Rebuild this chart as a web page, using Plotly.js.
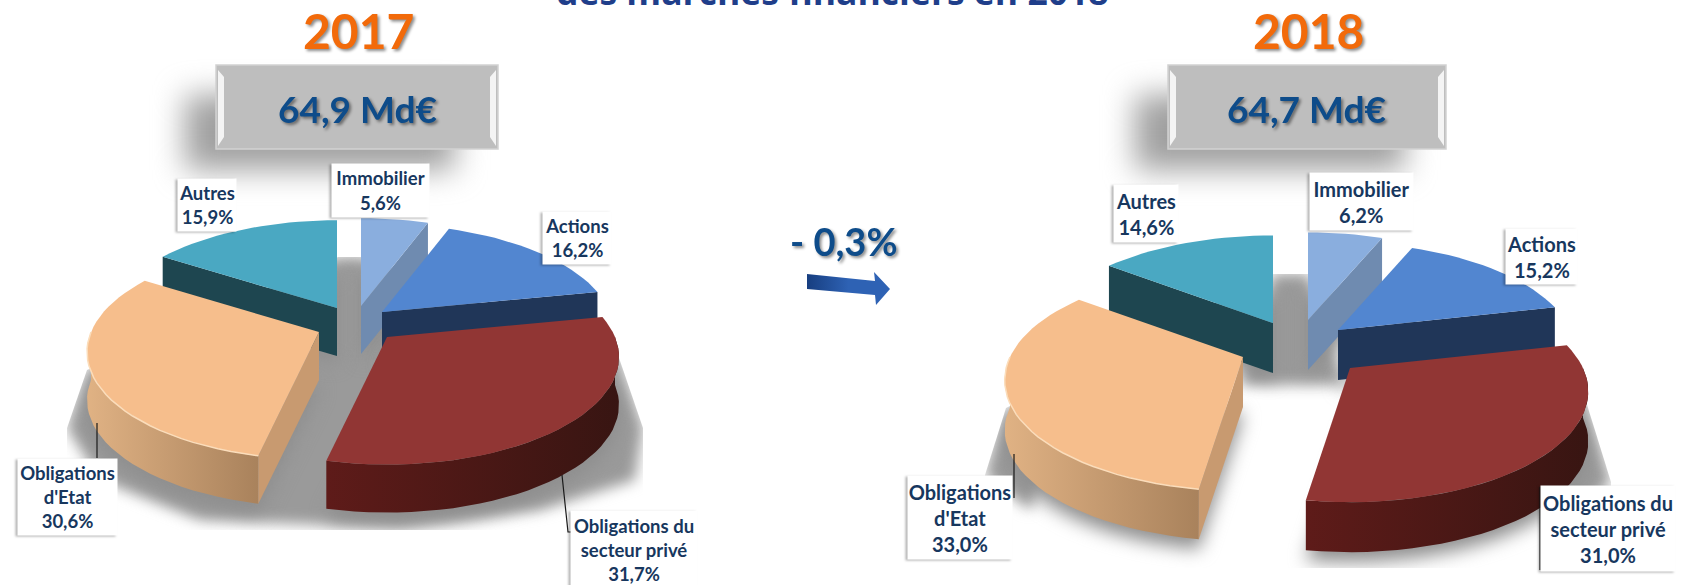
<!DOCTYPE html>
<html lang="fr">
<head>
<meta charset="utf-8">
<script src="https://cdn.plot.ly/plotly-3.0.1.min.js"></script>
<style>
html,body{margin:0;padding:0;background:#fff;overflow:hidden}
#chart{width:1685px;height:585px}
</style>
</head>
<body>
<div id="chart"></div>
<script>
// ---- DATA ----
const categories = ["Immobilier", "Actions", "Obligations du<br>secteur privé", "Obligations<br>d'Etat", "Autres"];
const years = ["2017", "2018"];
const shares2017 = [5.6, 16.2, 31.7, 30.6, 15.9];
const shares2018 = [6.2, 15.2, 31.0, 33.0, 14.6];
const totals = [64.9, 64.7];
const changeLabel = "- 0,3%";
const headline = "des marchés financiers en 2018";

// ---- STYLE ----
const topColors  = ["#8AAEDE", "#5286D0", "#913634", "#F6BE8C", "#4AA8C2"];
const faceColors = ["#6F8BB0", "#203658", "#4A1614", "#C89A70", "#1E4650"];
const rimStops   = [["#6F8BB0","#6F8BB0"], ["#203658","#203658"], ["#5E1B19","#381512"], ["#E0B284","#A9825C"], ["#1E4650","#1E4650"]];
const NAVY = "#0E4C8A", LABEL = "#17375E", ORANGE = "#F26A0A";

// Projection and layout of each exploded pie (pixels on a page-sized axis)
const pies = [
  {shares: shares2017, sx: 228, sy: 104, k: 0.185, h: 48,
   explodeTo: [[361,306],[382,312],[387,337],[319,332],[337,308]],
   clip: [[338,257],[362,257],[618,355],[643,428],[643,530],[67,530],[67,428],[87,370]],
   floors: [[[338,257],[362,257],[618,355],[643,428],[635,480],[540,510],[400,528],[200,520],[100,480],[67,428],[87,370]]],
   title: {x: 358, y: 30}, box: [216, 498, 65, 149],
   boxShadow: [[185,95],[455,95],[455,170],[185,170]],
   labels: [[331,163,97,53],[542,211,68,52],[570,510,126,78],[17,458,99,76],[177,178,58,52]],
   labelSize: 18.5,
   leaders: [[[97,423],[97,458]], [[562,475],[568,532],[573,532]]]},
  {shares: shares2018, sx: 233, sy: 106, k: 0.21, h: 50,
   explodeTo: [[1308,320],[1338,330],[1350,368],[1243,357],[1273,323]],
   clip: [[1273,274],[1308,274],[1584,395],[1611,482],[1611,568],[985,568],[985,475],[1006,408]],
   floors: [[[1273,274],[1308,274],[1345,385],[1240,385]],
            [[1006,408],[985,475],[1030,510],[1060,440]],
            [[1584,395],[1611,482],[1570,520],[1540,430]]],
   title: {x: 1308, y: 30}, box: [1168, 1446, 65, 149],
   boxShadow: [[1135,95],[1405,95],[1405,170],[1135,170]],
   labels: [[1309,172,103,57],[1505,228,71,55],[1540,485,134,85],[907,475,104,83],[1113,184,64,57]],
   labelSize: 20,
   leaders: [[[1014,454],[1014,498]], [[1540,487],[1540,570]]]}
];

const fmt = v => v.toFixed(1).replace(".", ",");
const rad = d => d * Math.PI / 180;

const traces = [], annotations = [], shapes = [], blurred = [];
const poly = (pts, extra) => Object.assign({
  x: pts.map(p => p[0]), y: pts.map(p => p[1]), mode: "lines", fill: "toself",
  line: {width: 0}, hoverinfo: "skip", showlegend: false
}, extra);

function slicesOf(pie) {
  const total = pie.shares.reduce((a, b) => a + b, 0);
  let acc = 0;
  return pie.shares.map((s, i) => {
    const a0 = acc / total * 360; acc += s;
    const a1 = acc / total * 360, mid = (a0 + a1) / 2;
    return {i, a0, a1, mid, apex: pie.explodeTo[i]};
  });
}
function arc(pie, sl, from, to, drop) {
  const pts = [];
  const n = Math.max(2, Math.ceil((to - from) / 3));
  for (let j = 0; j <= n; j++) {
    const t = rad(from + (to - from) * j / n);
    const u = Math.sin(t), v = Math.cos(t), w = 1 + pie.k * v;
    pts.push([sl.apex[0] + pie.sx * u / w, sl.apex[1] - pie.sy * v / w + (drop || 0)]);
  }
  return pts;
}

pies.forEach((pie, pi) => {
  const slices = slicesOf(pie);
  const order = slices.slice().sort((a, b) => Math.cos(rad(b.mid)) - Math.cos(rad(a.mid)));

  // soft shadows behind the pie
  blurred.push({index: traces.length, blur: 15, clip: pi});
  traces.push(poly(pie.boxShadow, {fillcolor: "#A0A0A0"}));
  pie.floors.forEach(f => {
    blurred.push({index: traces.length, blur: 7, clip: pi, clipPie: true});
    traces.push(poly(f, {fillcolor: "#9A9A9A"}));
  });
  slices.forEach(sl => {
    const apex = [sl.apex[0], sl.apex[1] + pie.h + 8];
    blurred.push({index: traces.length, blur: 9, clip: pi, clipPie: true});
    traces.push(poly([apex].concat(arc(pie, sl, sl.a0, sl.a1, pie.h + 10)), {fillcolor: "#8E8E8E"}));
  });

  // solid slices, back to front
  order.forEach(sl => {
    const i = sl.i;
    const apexTop = sl.apex;
    const apexLow = [sl.apex[0], sl.apex[1] + pie.h];
    const face = a => {
      const tTop = arc(pie, sl, a, a, 0)[0], tLow = arc(pie, sl, a, a, pie.h)[0];
      return [apexTop, tTop, tLow, apexLow];
    };
    const from = Math.max(sl.a0, 90), to = Math.min(sl.a1, 270);
    if (to > from) {
      const strip = arc(pie, sl, from, to, 0).concat(arc(pie, sl, from, to, pie.h).reverse());
      traces.push(poly(strip, {fillgradient: {type: "horizontal",
        colorscale: [[0, rimStops[i][0]], [1, rimStops[i][1]]]}}));
    }
    if (Math.cos(rad(sl.a0 - 90)) < 0) traces.push(poly(face(sl.a0), {fillcolor: faceColors[i]}));
    if (Math.cos(rad(sl.a1 + 90)) < 0) traces.push(poly(face(sl.a1), {fillcolor: faceColors[i]}));
    traces.push(poly([apexTop].concat(arc(pie, sl, sl.a0, sl.a1, 0)), {fillcolor: topColors[i]}));
    if (to > from && i === 3) {
      const edge = arc(pie, sl, from, to, 0);
      traces.push({x: edge.map(p => p[0]), y: edge.map(p => p[1]),
        mode: "lines", line: {width: 1.5, color: "#FBDDBB"}, hoverinfo: "skip", showlegend: false});
    }
  });

  // grey total box
  const [x0, x1, y0, y1] = pie.box;
  shapes.push({type: "rect", x0, x1, y0, y1, fillcolor: "#BEBEBE", line: {color: "#D2D2D2", width: 1.5}});
  shapes.push({type: "path", path: `M${x0+2},${y0+5} L${x0+8},${y0+12} L${x0+8},${y1-12} L${x0+2},${y1-3} Z`, fillcolor: "#F4F4F4", line: {width: 0}});
  shapes.push({type: "path", path: `M${x1-2},${y0+5} L${x1-8},${y0+12} L${x1-8},${y1-12} L${x1-2},${y1-3} Z`, fillcolor: "#F4F4F4", line: {width: 0}});

  annotations.push({x: pie.title.x, y: pie.title.y, text: "<b>" + years[pi] + "</b>", showarrow: false,
    font: {family: "Lato", size: 48, color: ORANGE}, xanchor: "center", yanchor: "middle"});
  annotations.push({x: (x0 + x1) / 2 - (pi ? 1 : 0), y: 108, text: "<b>" + fmt(totals[pi]) + " Md€</b>", showarrow: false,
    font: {family: "Lato", size: 37, color: NAVY}, xanchor: "center", yanchor: "middle"});

  // value labels
  pie.labels.forEach((l, i) => {
    annotations.push({x: l[0], y: l[1], width: l[2], height: l[3], xanchor: "left", yanchor: "top",
      text: "<b>" + categories[i] + "<br>" + fmt(pie.shares[i]) + "%</b>", showarrow: false,
      bgcolor: "#FFFFFF", borderpad: 0, align: "center", valign: "middle",
      font: {family: "Lato", size: pie.labelSize, color: LABEL}});
  });
  pie.leaders.forEach(pts => {
    shapes.push({type: "path", path: "M" + pts.map(p => p.join(",")).join(" L"), line: {color: "#1A1A1A", width: 1.2}});
  });
});

// arrow between the two pies
traces.push(poly([[807,274],[875,281],[874,272],[890,289],[876,305],[875,295],[807,289]],
  {fillgradient: {type: "horizontal", colorscale: [[0, "#173E80"], [0.5, "#2E62B4"], [1, "#2E62B4"]]}}));

annotations.push({x: 844, y: 241, text: "<b>" + changeLabel + "</b>", showarrow: false,
  font: {family: "Lato", size: 38, color: NAVY}, xanchor: "center", yanchor: "middle"});
annotations.push({x: 832, y: 9, text: "<b>" + headline + "</b>", showarrow: false,
  font: {family: "Open Sans", size: 35.5, color: "#1F3E8A"}, xanchor: "center", yanchor: "bottom", yshift: -8});

const layout = {
  width: 1685, height: 585, margin: {l: 0, r: 0, t: 0, b: 0},
  paper_bgcolor: "#FFFFFF", plot_bgcolor: "#FFFFFF", showlegend: false, hovermode: false,
  xaxis: {range: [0, 1685], visible: false, fixedrange: true},
  yaxis: {range: [585, 0], visible: false, fixedrange: true},
  shapes, annotations
};

Plotly.newPlot("chart", traces, layout, {displayModeBar: false, staticPlot: true}).then(() => {
  const gd = document.getElementById("chart");
  const svg = gd.querySelector(".main-svg");
  const NS = "http://www.w3.org/2000/svg";
  let defs = svg.querySelector("defs");
  pies.forEach((pie, pi) => {
    const c = document.createElementNS(NS, "clipPath");
    c.setAttribute("id", "floorclip" + pi);
    const p = document.createElementNS(NS, "polygon");
    p.setAttribute("points", pie.clip.map(q => q.join(",")).join(" "));
    c.appendChild(p); defs.appendChild(c);
  });
  const nodes = gd.querySelectorAll(".scatterlayer .trace");
  blurred.forEach(b => {
    const n = nodes[b.index];
    if (!n) return;
    n.style.filter = "blur(" + b.blur + "px)";
    if (b.clipPie) n.setAttribute("clip-path", "url(#floorclip" + b.clip + ")");
  });
  gd.querySelectorAll(".annotation-text").forEach(t => {
    const s = t.textContent;
    if (/^20\d\d$|Md€|0,3%/.test(s)) t.style.filter = "drop-shadow(2px 2px 1.5px rgba(0,0,0,0.45))";
  });
  gd.querySelectorAll(".annotation").forEach(a => {
    if (/%$/.test(a.textContent) && !/0,3/.test(a.textContent)) {
      const bg = a.querySelector(".bg");
      if (bg) bg.style.filter = "drop-shadow(-2px 1px 1px rgba(0,0,0,0.3))";
    }
  });
});
</script>
</body>
</html>
